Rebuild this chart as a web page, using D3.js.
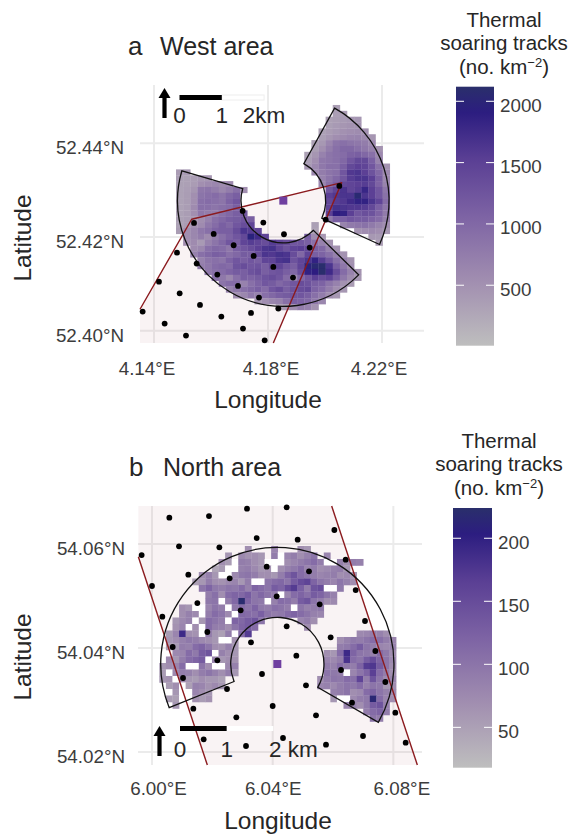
<!DOCTYPE html>
<html>
<head>
<meta charset="utf-8">
<script src="https://cdn.jsdelivr.net/npm/d3@7"></script>
<style>
  body { margin: 0; background: #fff; }
  text { font-family: "Liberation Sans", Arial, sans-serif; }
</style>
</head>
<body>
<svg id="chart" width="570" height="834"></svg>
<script>
// turbine positions [lon, lat]
const westTurbines = [
  [4.13602,52.40407],[4.15404,52.42300],[4.17111,52.42556],[4.17836,52.42307],[4.18561,52.42058],
  [4.19462,52.41773],[4.20023,52.42371],[4.20503,52.43089],[4.16094,52.42065],[4.16795,52.41823],
  [4.17497,52.41595],[4.18187,52.41360],[4.18877,52.41133],[4.14807,52.41666],[4.15497,52.41432],
  [4.16222,52.41197],[4.16947,52.40955],[4.17684,52.40706],[4.18363,52.40471],[4.14175,52.41047],
  [4.14901,52.40798],[4.15614,52.40549],[4.16363,52.40300],[4.17404,52.40379],[4.14374,52.40151],
  [4.17123,52.40044],[4.15123,52.39895],[4.17883,52.39795]
];
const northTurbines = [
  [6.00575,54.06506],[6.01889,54.06538],[6.03149,54.06679],[6.04464,54.06705],[6.03469,54.06115],
  [6.04828,54.06083],[6.06044,54.06269],[6.00895,54.05955],[6.02232,54.05936],[5.99657,54.05788],
  [6.06419,54.05699],[6.03801,54.05564],[6.05204,54.05474],[6.01204,54.0541],[6.02574,54.0534],
  [6.00000,54.05192],[6.06751,54.05115],[6.04132,54.04994],[6.05557,54.0484],[6.01503,54.04865],
  [6.02939,54.04724],[6.00343,54.04603],[6.0706,54.04519],[6.04464,54.04417],[6.01834,54.04308],
  [6.05922,54.04205],[6.03281,54.04109],[6.00685,54.04019],[6.07403,54.03942],[6.04784,54.03853],
  [6.02166,54.03763],[6.06265,54.03577],[6.03646,54.035],[6.01028,54.03423],[6.07734,54.03346],
  [6.05104,54.03282],[6.02486,54.03212],[6.06629,54.02949],[6.04,54.02885],[6.0137,54.02833],
  [6.08065,54.02756],[6.05436,54.02705],[6.02795,54.02667],[6.06994,54.02308],[6.04342,54.02269],
  [6.01713,54.02244],[6.08408,54.02179],[6.05767,54.02141],[6.03116,54.02115]
];

// wind farm outlines
const westFill = [[4.13509,52.40457],[4.15322,52.42378],[4.20585,52.4316],[4.18187,52.39737],[4.13509,52.39737]];
const westEdge = [[4.13509,52.40457],[4.15322,52.42378],[4.20585,52.4316],[4.18187,52.39737]];
const northFill = [[5.99547,54.06731],[6.05955,54.06731],[6.08795,54.0175],[6.01834,54.0175],[5.99547,54.05756]];
const northEdges = [[[5.99547,54.05756],[6.01834,54.0175]],[[6.05955,54.06731],[6.08795,54.0175]]];

const westRadar = [4.18538,52.42776];
const northRadar = [6.04154,54.03692];
const westSectors = [[134.6,286.4],[29,114.5]];
const northSectors = [[-112,120]];
const radarRangeKm = [1,2.5];

// tracks per cell: [row, first column, values...]
const westCells = [
  [0,22,350],[1,22,360,380],[2,21,340,370,400,440,440],[3,21,350,400,450,480,480],
  [4,20,330,380,440,500,540,560,500],[5,20,350,450,540,580,640,660,580,450],
  [6,19,330,430,640,850,900,850,800,740,600],[7,19,350,520,740,900,1000,1000,900,800,680,480],
  [8,18,330,450,680,850,900,950,1080,1120,1000,900,600],[9,18,350,520,800,850,900,1000,1220,1400,1400,1100,660],
  [10,18,420,600,800,900,900,1100,1400,1500,1450,1220,880,480],[11,19,600,740,850,900,1220,1600,1650,1500,1280,1000,600],
  [12,20,680,850,1000,1220,1550,1650,1650,1500,1100,600],[13,20,620,900,1100,1400,1450,1500,1550,1400,1050,660],
  [14,21,1220,1450,1650,1450,1550,1800,1500,1220,820],[15,21,1500,1600,1650,1650,2050,1650,1500,1220,880],
  [16,21,1400,1550,1600,1750,1850,1850,1650,1450,950],[17,21,1450,1700,1650,1600,1600,1550,1400,1100,820],
  [18,21,1500,1900,1850,1500,1220,1320,1280,1050,760],[19,21,780,1100,1100,1220,1160,1160,1050,950,700],
  [20,23,660,780,830,880,780,660,540],[21,25,480,550,600,540,430],[22,27,420,400],[23,28,360],
  [11,0,380,400],[12,0,350,330,360,420,450],[13,0,330,340,380,520,580,620,560,580],
  [14,0,320,360,450,800,850,740,620,740,900,540],[15,0,320,370,520,860,900,950,850,1000,1120],
  [16,0,310,370,520,900,950,900,850,1060,1220],[17,0,310,370,570,900,900,850,900,950,1120],
  [18,0,310,370,520,800,740,740,900,1000,1120,1220],[19,0,330,370,450,520,680,900,1000,1120,1170,1220,1120],
  [20,0,310,370,520,570,800,950,1120,1000,1220,1350,1450],[20,19,350],
  [21,0,370,520,620,800,900,1060,1120,1120,1350,1650,1550,1450],[21,19,300],
  [22,1,520,620,740,570,740,900,1060,1220,1400,1950,1750,1450],[22,18,1120,560,420],
  [23,1,520,570,400,680,850,1000,1220,1120,1450,1550,1450,1350,1550,1450,1350,1220,1220,1120,900,680,480],
  [24,2,570,620,900,1000,950,800,1120,1220,1350,1500,1650,1700,1450,1280,1450,1500,1400,1120,1000,680,480],
  [25,2,680,900,1000,1120,1060,900,1000,1170,1120,1350,1650,1600,1700,1650,1350,1000,1450,1120,1060,900,680,480],
  [26,3,680,850,900,850,1060,1220,1120,1220,1120,1450,1450,1650,1700,1280,1450,1650,1850,1550,1220,900,680,480],
  [27,3,740,800,950,1000,950,1280,1350,1220,1280,1120,1350,1450,1220,1120,1450,1950,2050,2100,1650,1120,800,540],
  [28,4,800,900,950,1060,1170,1120,1280,1350,1120,1220,1280,1120,1000,1350,1850,1900,2100,1750,1350,950,680,480],
  [29,5,900,800,620,900,1120,1060,1170,1280,1350,1220,950,560,1000,1220,1500,1350,1450,1120,800,560,420],
  [30,6,850,950,950,680,900,1060,1220,1170,1000,1120,1220,1350,1280,1120,1060,850,680,480,380],
  [31,7,680,800,900,1000,1120,950,1220,1350,1120,1280,1350,1400,1060,950,740,540,420],
  [32,8,540,620,800,680,900,1000,1120,1170,1220,1220,1120,900,740,540,420],
  [33,11,450,540,620,680,900,1120,1060,1000,800,620],[34,14,360,420,540,740,680,480]
];
const northCells = [
  [0,13,70],[0,17,80],[0,21,70,60],
  [1,10,60],[1,12,75,65,70,60],[1,17,90,0,80,90,70,85,100],[1,25,80],
  [2,9,70,55,0,90,85,70,60,0,0,0,70,80,90,100,110,90,0,0,85,70,90,85],
  [3,8,45,55,0,0,85,90,75,60,65,0,70,85,95,110,80,90,70,75,85,90,60],
  [4,6,70,85,60,0,0,75,95,100,90,70,70,60,90,120,140,110,100,90,80,85,90,70,75,60],
  [5,5,50,60,90,70,65,75,80,60,90,0,0,100,110,115,100,130,150,160,120,100,90,80,100,85,70],
  [6,6,100,120,95,90,100,95,110,85,120,110,100,130,120,150,170,125,90,140,150,0,0,95],
  [7,7,90,105,70,110,120,115,130,100,115,100,90,0,80,110,120,105,130,120,100,85],
  [8,7,95,100,0,90,115,220,120,100,95,0,85,110,105,90,130,140,100,90,70,75],
  [9,3,70,60,0,0,80,100,90,0,95,110,100,120,95,90,105,100,90,0,100,85,90,95],
  [10,3,70,85,75,0,90,110,100,75,0,115,110,105,125,100,90,95,110,120,110,100,85,80],
  [11,2,60,75,85,0,60,110,100,90,0,120,115,130,140,100],[11,21,80,90,70],
  [12,2,65,80,0,70,0,110,90,85,70,100,120,130,110],[12,22,70],
  [13,1,55,80,190,70,65,0,90,60,50,90,0,110,170],[13,30,75,80,90,85,70],
  [14,1,60,70,85,95,90,75,70,60,0,0,65],[14,27,70,85,95,90,100,110,105,90,80],
  [15,1,50,55,90,85,110,120,100,70,65,85,60],[15,27,90,95,110,130,100,90,80,75,85],
  [16,2,75,80,110,95,130,140,0,85,70,60],[16,25,70,60,110,190,120,100,95,85,110,95,70],
  [17,1,75,60,90,110,120,130,0,80,60,70,65],[17,25,80,75,90,180,110,100,130,150,120,100,75],
  [18,0,60,70,80,110,0,0,100,70,0,0,75,85],[18,25,90,85,110,95,90,120,170,175,130,100,70],
  [19,0,55,0,75,90,85,70,90,100,85,70,90,60],[19,25,100,95,90,0,80,100,120,165,110,90,70],
  [20,0,60,65,0,75,60,55,70,60,60,50],[20,24,70,90,100,95,110,105,160,90,140,100,75,80],
  [21,1,55,70,0,50,85,80,65,75,60],[21,24,80,85,75,90,100,95,110,85,100,95,60,70],
  [22,1,0,60,0,0,80,70,60],[22,26,85,90,100,70,75,110,120,100,85,75],
  [23,1,55,50,0,0,65,55,65],[23,26,60,0,0,75,90,95,215,110,80,70],
  [24,2,60],[24,28,80,85,70,95,130,140,85],[25,31,90,110,120,90],[26,32,100,90]
];

const westLegendTicks = [500,1000,1500,2000];
const northLegendTicks = [50,100,150,200];
const westLonTicks = [4.14,4.18,4.22];
const westLatTicks = [52.40,52.42,52.44];
const northLonTicks = [6.00,6.04,6.08];
const northLatTicks = [54.02,54.04,54.06];

const colorStops = [[0,'#bebebe'],[0.25,'#a18eb0'],[0.5,'#7d63a4'],[0.72,'#5a3f94'],[0.9,'#2c1d80'],[1,'#2a2f6b']];

const svg = d3.select('#chart');
const textDark = '#262626';
const tickGrey = '#3c3c3c';
const red = '#8b1a1e';

const defs = svg.append('defs');
const grad = defs.append('linearGradient').attr('id', 'legendGrad')
    .attr('x1', 0).attr('x2', 0).attr('y1', 1).attr('y2', 0);
grad.selectAll('stop').data(colorStops).enter().append('stop')
    .attr('offset', d => d[0])
    .attr('stop-color', d => d[1]);
defs.append('filter').attr('id', 'soft').append('feGaussianBlur').attr('stdDeviation', 0.4);

function drawPanel(p){
    const x = d3.scaleLinear().domain(p.lonDomain).range(p.xRange);
    const y = d3.scaleLinear().domain(p.latDomain).range(p.yRange);
    const km = d3.scaleLinear().domain([0,2]).range([0,p.kmPx]);
    const color = d3.scaleLinear()
        .domain(colorStops.map(s => p.valueDomain[0] + s[0]*(p.valueDomain[1]-p.valueDomain[0])))
        .range(colorStops.map(s => s[1]));
    const g = svg.append('g');
    const line = d3.line().x(d => x(d[0])).y(d => y(d[1]));

    // grid
    g.selectAll('.gv').data(p.lonTicks).enter().append('line')
        .attr('x1', d => x(d)).attr('x2', d => x(d))
        .attr('y1', p.yRange[1]).attr('y2', p.yRange[0])
        .attr('stroke', '#ebebeb').attr('stroke-width', 2);
    g.selectAll('.gh').data(p.latTicks).enter().append('line')
        .attr('x1', p.xRange[0]).attr('x2', p.xRange[1])
        .attr('y1', d => y(d)).attr('y2', d => y(d))
        .attr('stroke', '#ebebeb').attr('stroke-width', 2);

    g.append('path').attr('d', line(p.fill) + 'Z')
        .attr('fill', red).attr('fill-opacity', 0.05);

    // track density
    const cells = p.cells.flatMap(([row, start, ...vals]) => vals.map((v, i) => ({row, col: start+i, v})));
    const cw = x(p.origin[0]+p.cellSize[0]) - x(p.origin[0]);
    const ch = y(p.origin[1]-p.cellSize[1]) - y(p.origin[1]);
    const cellLayer = g.append('g');
    if (p.softCells) cellLayer.attr('filter', 'url(#soft)');
    cellLayer.selectAll('.cell').data(cells).enter().append('rect')
        .attr('x', d => x(p.origin[0]+d.col*p.cellSize[0]))
        .attr('y', d => y(p.origin[1]-d.row*p.cellSize[1]))
        .attr('width', cw+0.3)
        .attr('height', ch+0.3)
        .attr('fill', d => d.v == 0 ? '#fff' : color(d.v));

    p.edges.forEach(e => {
        g.append('path').attr('d', line(e)).attr('fill', 'none')
            .attr('stroke', red).attr('stroke-width', 1.4).attr('stroke-linejoin', 'round');
    });

    // radar sectors
    const arc = d3.arc().innerRadius(km(radarRangeKm[0])).outerRadius(km(radarRangeKm[1]));
    g.selectAll('.sector').data(p.sectors).enter().append('path')
        .attr('transform', `translate(${x(p.radar[0])},${y(p.radar[1])})`)
        .attr('d', d => arc({startAngle: d[0]*Math.PI/180, endAngle: d[1]*Math.PI/180}))
        .attr('fill', 'none').attr('stroke', '#111').attr('stroke-width', 1.3);

    g.append('rect')
        .attr('x', x(p.radar[0])-4).attr('y', y(p.radar[1])-4)
        .attr('width', 8).attr('height', 8).attr('fill', '#6f3fa0');

    g.selectAll('.turbine').data(p.turbines).enter().append('circle')
        .attr('cx', d => x(d[0])).attr('cy', d => y(d[1])).attr('r', 2.9).attr('fill', '#000');

    // scale bar + north arrow
    const sb = p.scaleBar;
    g.append('rect').attr('x', sb.x+km(1)).attr('y', sb.y).attr('width', km(1)).attr('height', 5)
        .attr('fill', '#fff').attr('stroke', sb.outline ? '#eee' : 'none');
    g.append('rect').attr('x', sb.x).attr('y', sb.y).attr('width', km(1)).attr('height', 5).attr('fill', '#000');
    g.selectAll('.sblab').data(p.scaleLabels).enter().append('text')
        .attr('x', d => sb.x+km(d[0])+d[2]).attr('y', sb.textY)
        .attr('text-anchor', 'middle').attr('font-size', 22.5).attr('fill', textDark)
        .text(d => d[1]);
    g.append('line').attr('x1', sb.arrowX).attr('x2', sb.arrowX)
        .attr('y1', sb.arrowTop+6).attr('y2', sb.arrowBottom)
        .attr('stroke', '#000').attr('stroke-width', 4.2);
    g.append('path')
        .attr('d', `M${sb.arrowX-6},${sb.arrowTop+10}L${sb.arrowX},${sb.arrowTop}L${sb.arrowX+6},${sb.arrowTop+10}Z`)
        .attr('fill', '#000');

    // axes
    const xAxis = g.append('g').attr('transform', `translate(0,${p.xLabelY})`)
        .call(d3.axisBottom(x).tickValues(p.lonTicks).tickSize(0).tickFormat(d => d.toFixed(2)+'°E'));
    xAxis.select('.domain').remove();
    xAxis.selectAll('text').attr('font-size', 18.8).attr('fill', tickGrey)
        .attr('dy', 0).attr('dx', (d, i) => p.lonNudge[i]);
    const yAxis = g.append('g').attr('transform', `translate(${p.yLabelX},0)`)
        .call(d3.axisLeft(y).tickValues(p.latTicks).tickSize(0).tickFormat(d => d.toFixed(2)+'°N'));
    yAxis.select('.domain').remove();
    yAxis.selectAll('text').attr('font-size', 18.8).attr('fill', tickGrey)
        .attr('x', 0).attr('dy', '0.55em');

    g.append('text').attr('x', p.xTitle[0]).attr('y', p.xTitle[1]).attr('text-anchor', 'middle')
        .attr('font-size', 24.5).attr('fill', textDark).text('Longitude');
    g.append('text').attr('transform', `translate(${p.yTitle[0]},${p.yTitle[1]}) rotate(-90)`)
        .attr('text-anchor', 'middle').attr('font-size', 24.5).attr('fill', textDark).text('Latitude');

    g.append('text').attr('x', p.tag[0]).attr('y', p.tag[1]).attr('font-size', 26).attr('fill', textDark).text(p.tag[2]);
    g.append('text').attr('x', p.title[0]).attr('y', p.title[1]).attr('font-size', 25).attr('fill', textDark).text(p.title[2]);

    // legend
    const lg = p.legend;
    const ly = d3.scaleLinear().domain(p.valueDomain).range([lg.y1, lg.y0]);
    g.append('rect').attr('x', lg.x).attr('y', lg.y0).attr('width', lg.w).attr('height', lg.y1-lg.y0)
        .attr('fill', 'url(#legendGrad)');
    g.selectAll('.lt').data(p.legendTicks).enter().append('path')
        .attr('d', d => `M${lg.x},${ly(d)}h8M${lg.x+lg.w-8},${ly(d)}h8`)
        .attr('stroke', '#fff').attr('stroke-width', 1);
    g.selectAll('.ll').data(p.legendTicks).enter().append('text')
        .attr('x', lg.x+lg.w+6).attr('y', d => ly(d)+10.5)
        .attr('font-size', 18.8).attr('fill', tickGrey).text(d => d);
    const lt = g.append('g').attr('text-anchor', 'middle').attr('font-size', 20.5).attr('fill', textDark);
    lt.append('text').attr('x', lg.titleX).attr('y', lg.titleY[0]).text('Thermal');
    lt.append('text').attr('x', lg.titleX).attr('y', lg.titleY[1]).text('soaring tracks');
    const unit = lt.append('text').attr('x', lg.titleX).attr('y', lg.titleY[2]);
    unit.append('tspan').text('(no. km');
    unit.append('tspan').attr('dy', -7).attr('font-size', 13).text('−2');
    unit.append('tspan').attr('dy', 7).text(')');
}

drawPanel({
    lonDomain: [4.13509,4.23474], latDomain: [52.39737,52.45244],
    xRange: [140,424], yRange: [343,85],
    lonTicks: westLonTicks, latTicks: westLatTicks, lonNudge: [-7.5,2.5,-3.5],
    fill: westFill, edges: [westEdge], cells: westCells, softCells: true,
    origin: [4.14772,52.44818], cellSize: [0.0025,0.00125],
    radar: westRadar, sectors: westSectors, turbines: westTurbines,
    kmPx: 84.6, valueDomain: [7,2119],
    scaleBar: {x: 179.5, y: 95, textY: 122.5, outline: true, arrowX: 164.5, arrowTop: 88, arrowBottom: 118},
    scaleLabels: [[0,'0',0],[1,'1',0],[2,'2km',0]],
    xLabelY: 372, yLabelX: 124, xTitle: [268,408], yTitle: [31,238],
    tag: [128,55,'a'], title: [160,55,'West area'],
    legendTicks: westLegendTicks,
    legend: {x: 456, w: 38, y0: 86.7, y1: 345.7, titleX: 504, titleY: [27,50,74]}
});

drawPanel({
    lonDomain: [5.99536,6.08949], latDomain: [54.0175,54.06731],
    xRange: [138,422], yRange: [765,506],
    lonTicks: northLonTicks, latTicks: northLatTicks, lonNudge: [6,0,8],
    fill: northFill, edges: northEdges, cells: northCells, softCells: false,
    origin: [6.00243,54.05962], cellSize: [0.00218,0.00125],
    radar: northRadar, sectors: northSectors, turbines: northTurbines,
    kmPx: 93.3, valueDomain: [18,224],
    scaleBar: {x: 180, y: 726, textY: 756.5, outline: false, arrowX: 159.5, arrowTop: 726, arrowBottom: 756},
    scaleLabels: [[0,'0',0],[1,'1',0],[2,'2 km',20]],
    xLabelY: 792, yLabelX: 125, xTitle: [278,829], yTitle: [31,657],
    tag: [129,476,'b'], title: [163,476,'North area'],
    legendTicks: northLegendTicks,
    legend: {x: 453, w: 39, y0: 508, y1: 767.7, titleX: 499, titleY: [448,471,495]}
});
</script>
</body>
</html>
